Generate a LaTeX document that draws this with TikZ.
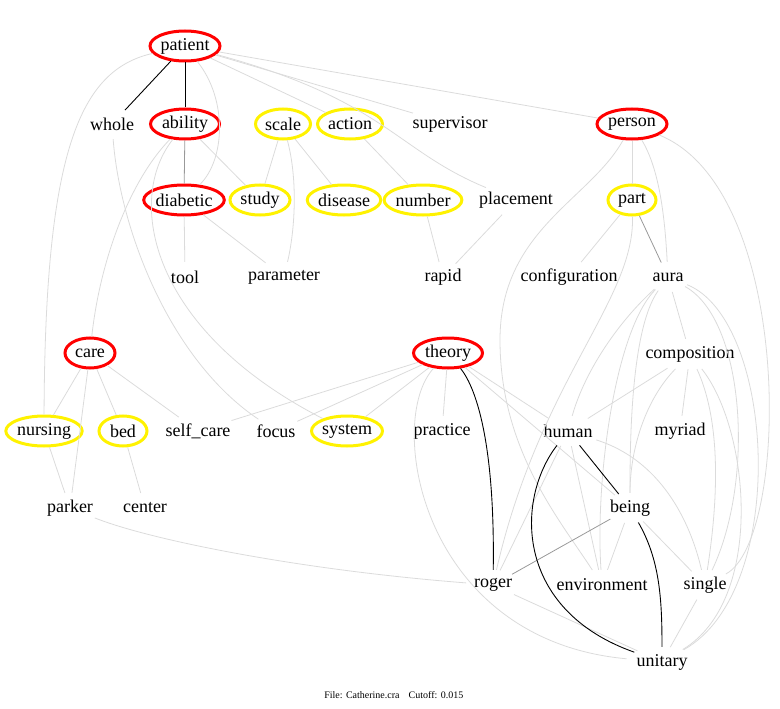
\documentclass[tikz,border=0pt]{standalone}
\usepackage{fontspec}
\setmainfont{Liberation Serif}
\usetikzlibrary{shapes.geometric}

\begin{document}
\begin{tikzpicture}[x=1pt,y=1pt,
	word/.style={ellipse,inner sep=0pt,minimum height=30pt,font=\fontsize{18}{20}\selectfont},
	ring/.style={line width=3pt,minimum width=#1},
	hot/.style={ring=#1,draw=red},
	warm/.style={ring=#1,draw=yellow},
	faint/.style={draw=black!14,line width=0.8pt},
	mid/.style={draw=black!40,line width=0.8pt},
	strong/.style={draw=black,line width=0.9pt},
	tag/.style={font=\fontsize{10}{11}\selectfont}]
	\useasboundingbox (0,0) rectangle (780,-709);
	% row 1
	\node[word,hot=70] (patient) at (185,-46) {patient};
	% row 2
	\node[word] (whole) at (112,-124) {whole};
	\node[word,hot=69] (ability) at (185,-124) {ability};
	\node[word,warm=55] (scale) at (283,-124) {scale};
	\node[word,warm=65] (action) at (350,-124) {action};
	\node[word] (supervisor) at (450,-124) {supervisor};
	\node[word,hot=70] (person) at (632,-124) {person};
	% row 3
	\node[word,hot=77] (diabetic) at (184,-200) {diabetic};
	\node[word,warm=60] (study) at (260,-200) {study};
	\node[word,warm=71] (disease) at (344,-200) {disease};
	\node[word,warm=74] (number) at (423,-200) {number};
	\node[word] (placement) at (516,-200) {placement};
	\node[word,warm=48] (part) at (632,-200) {part};
	% row 4
	\node[word] (tool) at (185,-277) {tool};
	\node[word] (parameter) at (284,-277) {parameter};
	\node[word] (rapid) at (443,-277) {rapid};
	\node[word] (configuration) at (569,-277) {configuration};
	\node[word] (aura) at (668,-277) {aura};
	% row 5
	\node[word,hot=50] (care) at (90,-353) {care};
	\node[word,hot=69] (theory) at (448,-353) {theory};
	\node[word] (composition) at (690,-354) {composition};
	% row 6
	\node[word,warm=72] (nursing) at (44,-431) {nursing};
	\node[word,warm=48] (bed) at (123,-431) {bed};
	\node[word] (self_care) at (198,-431) {self\_care};
	\node[word] (focus) at (276,-431) {focus};
	\node[word,warm=71] (system) at (347,-431) {system};
	\node[word] (practice) at (442,-431) {practice};
	\node[word] (human) at (568,-431) {human};
	\node[word] (myriad) at (680,-431) {myriad};
	% row 7
	\node[word] (parker) at (70,-508) {parker};
	\node[word] (center) at (145,-508) {center};
	\node[word] (being) at (630,-508) {being};
	% row 8
	\node[word] (roger) at (493,-585) {roger};
	\node[word] (environment) at (602,-585) {environment};
	\node[word] (single) at (705,-585) {single};
	% row 9
	\node[word] (unitary) at (662,-662) {unitary};
	% footer
	\node[tag] (file) at (362,-695) {File: Catherine.cra};
	\node[tag] (cutoff) at (436,-695) {Cutoff: 0.015};

	% light links
	\draw[faint] (patient) .. controls (228,-100) and (225,-160) .. (diabetic);
	\draw[faint] (patient) .. controls (80,-70) and (45,-150) .. (nursing);
	\draw[faint] (patient) -- (action);
	\draw[faint] (patient) -- (supervisor);
	\draw[faint] (patient) -- (person);
	\draw[faint] (patient) .. controls (385,-100) and (395,-150) .. (placement);
	\draw[faint] (ability) -- (study);
	\draw[faint] (ability) .. controls (130,-180) and (100,-260) .. (care);
	\draw[faint] (ability) .. controls (125,-200) and (150,-330) .. (system);
	\draw[faint] (whole) .. controls (120,-230) and (170,-360) .. (focus);
	\draw[faint] (scale) -- (study);
	\draw[faint] (scale) -- (disease);
	\draw[faint] (scale) .. controls (298,-180) and (295,-230) .. (parameter);
	\draw[faint] (action) -- (number);
	\draw[faint] (number) -- (rapid);
	\draw[faint] (placement) -- (rapid);
	\draw[faint] (diabetic) -- (tool);
	\draw[faint] (diabetic) -- (parameter);
	\draw[faint] (person) -- (part);
	\draw[faint] (person) .. controls (660,-170) and (665,-220) .. (aura);
	\draw[faint] (person) .. controls (795,-190) and (790,-540) .. (single);
	\draw[faint] (person) .. controls (590,-200) and (500,-230) .. (500,-340)
		.. controls (500,-450) and (560,-520) .. (environment);
	\draw[faint] (part) -- (configuration);
	\draw[faint] (part) .. controls (635,-300) and (540,-380) .. (roger);
	\draw[faint] (aura) -- (composition);
	\draw[faint] (aura) .. controls (620,-320) and (585,-370) .. (human);
	\draw[faint] (aura) .. controls (630,-330) and (630,-450) .. (being);
	\draw[faint] (aura) .. controls (615,-330) and (595,-480) .. (environment);
	\draw[faint] (aura) .. controls (745,-320) and (755,-480) .. (single);
	\draw[faint] (aura) .. controls (775,-320) and (790,-590) .. (unitary);
	\draw[faint] (composition) -- (human);
	\draw[faint] (composition) -- (myriad);
	\draw[faint] (composition) .. controls (645,-400) and (630,-450) .. (being);
	\draw[faint] (composition) .. controls (725,-430) and (715,-520) .. (single);
	\draw[faint] (composition) .. controls (750,-430) and (765,-600) .. (unitary);
	\draw[faint] (care) -- (nursing);
	\draw[faint] (care) -- (bed);
	\draw[faint] (care) -- (self_care);
	\draw[faint] (care) -- (parker);
	\draw[faint] (nursing) -- (parker);
	\draw[faint] (bed) -- (center);
	\draw[faint] (theory) -- (self_care);
	\draw[faint] (theory) -- (focus);
	\draw[faint] (theory) -- (system);
	\draw[faint] (theory) -- (practice);
	\draw[faint] (theory) -- (human);
	\draw[faint] (theory) -- (being);
	\draw[faint] (theory) .. controls (385,-420) and (420,-640) .. (unitary);
	\draw[faint] (human) -- (environment);
	\draw[faint] (human) -- (roger);
	\draw[faint] (human) .. controls (660,-460) and (690,-520) .. (single);
	\draw[faint] (being) -- (environment);
	\draw[faint] (being) -- (single);
	\draw[faint] (roger) -- (unitary);
	\draw[faint] (parker) .. controls (150,-540) and (300,-570) .. (roger);
	\draw[faint] (single) -- (unitary);
	% grey links
	\draw[mid] (ability) -- (diabetic);
	\draw[mid] (part) -- (aura);
	\draw[mid] (being) -- (roger);
	% black links
	\draw[strong] (patient) -- (whole);
	\draw[strong] (patient) -- (ability);
	\draw[strong] (theory) .. controls (478,-390) and (495,-450) .. (roger);
	\draw[strong] (human) -- (being);
	\draw[strong] (human) .. controls (515,-500) and (515,-610) .. (unitary);
	\draw[strong] (being) .. controls (660,-560) and (662,-600) .. (unitary);
\end{tikzpicture}
\end{document}
